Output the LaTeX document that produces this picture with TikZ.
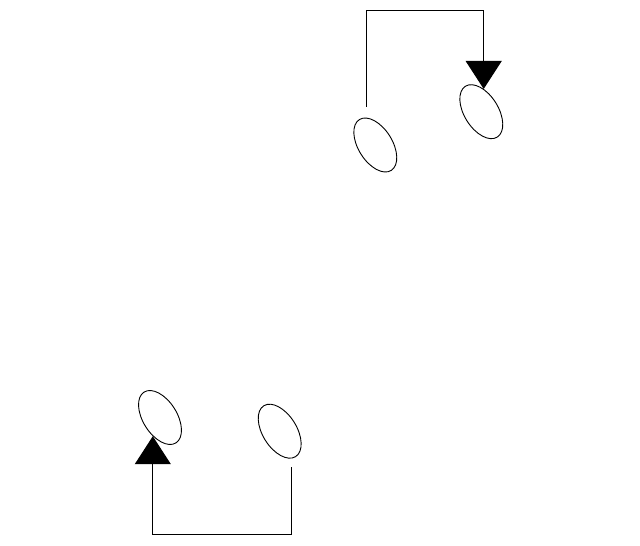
\documentclass[tikz,border=0pt]{standalone}
\usetikzlibrary{arrows.meta,shapes.geometric}
\begin{document}
\begin{tikzpicture}[x=1pt,y=1pt,
  loop/.style={draw,ellipse,line width=0.9pt,minimum width=34pt,minimum height=60pt,inner sep=0pt,rotate=32},
  link/.style={-{Triangle[length=28pt,width=36pt]},line width=1pt,color=black}]

\useasboundingbox (0,0) rectangle (640,546);

% top pair
  \node[loop] (e1) at (375.3,401) {};
  \node[loop] (e2) at (481.3,434.3) {};
  \coordinate (s1) at (366,439.3);
  \draw[link] (s1) -- ++(0,96) -| (e2.52);

% bottom pair
  \node[loop] (e3) at (160,128.5) {};
  \node[loop] (e4) at (279.7,114.8) {};
  \coordinate (s4) at (291,78.7);
  \draw[link] (s4) -- ++(0,-67.7) -| (e3.217);
\end{tikzpicture}
\end{document}
